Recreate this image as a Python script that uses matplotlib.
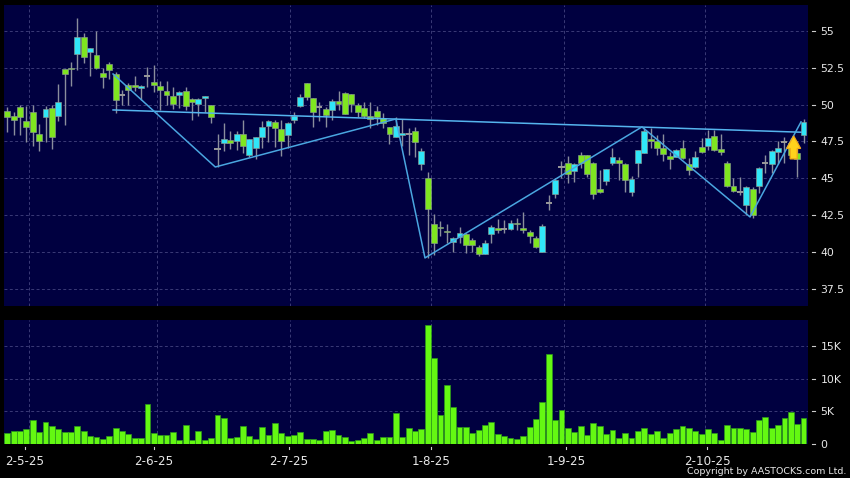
import matplotlib
matplotlib.use("Agg")
import matplotlib.pyplot as plt
from matplotlib.patches import FancyArrow

opens = [49.59,49.21,49.82,48.91,49.48,47.99,49.14,49.75,49.21,52.40,52.51,53.42,54.57,53.55,53.35,52.13,52.74,52.08,50.63,51.36,
         51.36,51.11,51.97,51.56,51.29,50.95,50.61,50.63,50.95,50.41,50.02,50.43,49.96,46.99,47.38,47.62,47.51,48.03,46.56,47.04,
         47.78,48.55,48.80,48.37,47.96,48.94,49.93,51.49,50.47,49.82,49.73,49.62,50.27,50.81,50.70,50.00,49.75,49.25,49.55,49.12,
         48.51,47.83,47.92,48.03,48.19,46.00,45.00,41.92,41.72,41.45,40.70,41.04,41.20,40.84,40.36,39.84,41.22,41.63,41.56,41.54,
         41.99,41.65,41.38,40.97,40.02,43.34,43.91,45.80,46.07,45.52,46.61,46.61,46.02,44.30,44.80,46.02,46.27,46.00,44.05,46.02,
         46.70,47.70,47.52,47.09,46.55,46.48,47.09,45.98,45.75,47.16,47.20,47.84,47.00,46.02,44.50,44.09,43.16,44.25,44.45,46.02,
         46.00,46.80,47.48,47.39,46.70,47.95]
closes = [49.19,48.98,49.14,48.51,48.12,47.56,49.68,47.78,50.16,52.06,52.40,54.57,53.21,53.82,52.47,51.90,52.33,50.32,50.63,51.00,
          51.18,51.24,51.97,51.31,50.97,50.63,50.02,50.84,49.89,50.18,50.41,50.61,49.14,46.99,47.65,47.42,48.03,47.19,47.69,47.78,
          48.51,48.91,48.39,47.56,48.73,49.23,50.50,50.50,49.48,49.82,49.28,50.27,50.02,49.39,50.02,49.48,49.25,49.00,49.14,48.78,
          47.99,48.57,48.05,48.03,47.49,46.83,42.90,40.63,41.63,41.34,40.97,41.27,40.48,40.48,39.84,40.59,41.72,41.52,41.56,41.97,
          41.88,41.47,41.11,40.32,41.79,43.34,44.86,45.80,45.30,45.95,46.07,45.30,43.91,44.05,45.61,46.43,46.02,44.86,44.98,46.89,
          48.18,47.52,47.05,46.64,46.30,46.93,46.36,45.57,46.43,46.82,47.77,46.93,46.77,44.50,44.14,44.09,44.39,42.48,45.73,46.02,
          46.86,47.09,47.48,46.59,46.30,48.80]
highs = [49.86,49.52,49.96,49.91,49.98,48.67,49.91,49.98,51.40,52.40,52.90,55.86,54.84,53.82,55.00,52.47,52.90,52.24,51.00,51.45,
         51.95,51.33,52.53,52.67,51.61,51.61,51.18,50.95,51.18,50.45,50.47,50.61,49.96,47.99,48.73,48.21,48.21,48.96,47.69,47.83,
         48.91,48.96,48.96,48.96,48.85,49.50,50.72,51.49,50.47,50.20,49.86,50.36,50.93,50.86,50.70,50.14,50.20,50.20,49.91,49.46,
         48.51,49.14,49.00,48.44,48.46,47.04,45.41,42.56,42.10,41.88,41.04,41.67,41.27,40.93,40.48,40.81,41.83,42.22,42.17,42.17,
         42.33,42.69,41.49,41.11,41.90,43.86,45.00,46.18,46.52,46.02,46.82,46.61,46.14,45.57,45.61,47.05,46.43,46.07,45.16,46.93,
         48.41,48.41,47.95,48.02,46.82,46.98,47.57,46.36,46.86,47.73,48.30,48.25,48.00,46.20,45.00,45.07,44.48,44.39,45.80,46.59,
         46.93,47.50,47.80,47.73,47.50,49.02]
lows = [48.17,47.94,47.94,47.49,47.22,46.88,47.49,47.01,48.91,48.62,51.27,52.35,52.81,51.95,52.40,51.15,51.74,49.46,49.98,49.98,
        50.95,50.32,51.22,50.88,49.64,49.98,49.71,49.75,49.64,48.96,49.25,49.52,48.78,45.79,46.88,46.99,46.92,46.74,46.47,46.29,
        47.04,47.49,47.15,46.52,47.04,48.73,49.86,50.32,48.51,48.91,48.51,48.96,49.64,49.34,49.52,49.19,49.07,48.39,48.62,48.39,
        47.33,47.83,47.19,46.58,46.47,45.57,39.57,39.80,41.11,40.63,40.02,40.63,39.95,40.02,39.75,39.84,40.63,41.27,41.27,41.49,
        41.49,41.27,40.63,40.25,39.98,42.84,43.70,45.00,44.70,44.77,45.68,45.11,43.59,43.98,44.55,45.91,44.89,44.09,43.82,45.07,
        46.70,47.05,46.59,46.18,45.61,46.43,46.32,45.23,45.68,46.70,46.93,46.86,46.59,44.43,44.05,43.86,42.50,42.34,44.02,45.39,
        45.34,46.00,46.07,46.48,45.11,47.43]
volumes = [1.64,2.00,2.00,2.20,3.65,1.85,3.39,2.67,2.20,1.85,1.85,2.72,2.00,1.23,1.08,0.77,1.13,2.42,1.95,1.49,
           0.82,0.82,6.06,1.59,1.28,1.28,1.80,0.62,2.88,0.51,1.95,0.62,0.82,4.37,4.01,0.92,1.08,2.67,1.13,0.77,
           2.57,1.39,3.13,1.64,1.18,1.28,1.80,0.77,0.77,0.57,1.90,2.16,1.34,1.03,0.46,0.62,0.82,1.59,0.51,1.03,
           1.03,4.68,1.03,2.36,2.00,2.21,18.24,13.16,4.37,9.04,5.60,2.57,2.57,1.64,2.10,2.83,3.29,1.49,1.18,0.82,
           0.77,1.13,2.57,3.85,6.47,13.72,3.70,5.24,2.36,1.75,2.72,1.28,3.24,2.72,1.49,2.16,0.82,1.59,0.87,1.90,
           2.47,1.54,1.90,0.87,1.70,2.21,2.77,2.36,2.00,1.44,2.31,1.59,0.57,2.88,2.47,2.47,2.21,1.75,3.60,4.16,
           2.36,2.93,4.01,4.88,2.98,3.91]

date_labels = ["2-5-25", "2-6-25", "2-7-25", "1-8-25", "1-9-25", "2-10-25"]
date_ticks = [2.78, 23.03, 44.2, 66.5, 87.7, 109.9]
date_grid = [3.45, 23.45, 44.45, 66.45, 87.45, 109.6]
price_ticks = [37.5, 40, 42.5, 45, 47.5, 50, 52.5, 55]
price_labels = ["37.5", "40", "42.5", "45", "47.5", "50", "52.5", "55"]
vol_ticks = [0, 5, 10, 15]
vol_labels = ["0", "5K", "10K", "15K"]
pattern_x = [16.6, 32.65, 61.0, 65.57, 99.63, 116.6, 124.6]
pattern_y = [52.08, 45.77, 49.03, 39.60, 48.49, 42.38, 48.83]
neck_x = [16.6, 124.6]
neck_y = [49.64, 48.13]

W, H = 850, 478
BG = "#000000"
PANEL = "#000040"
GRID = "#3a3a76"
LIME = "#7fe620"
CYAN = "#30e6f8"
EDGE = "#8a9a90"
TXT = "#e8e8e8"
DASH = (0, (3, 2.5))
plt.rcParams["font.family"] = "DejaVu Sans"

fig = plt.figure(figsize=(W / 100, H / 100), dpi=100, facecolor=BG)


def box(l, t, r, b):
    return [l / W, 1 - b / H, (r - l) / W, (b - t) / H]


ax = fig.add_axes(box(4, 5, 808, 306), facecolor=PANEL)
axv = fig.add_axes(box(4, 319.5, 808, 443.7), facecolor=PANEL)
xlim = (-0.518, 125.7)

for a in (ax, axv):
    a.set_xlim(*xlim)
    for s in a.spines.values():
        s.set_visible(False)
    for g in date_grid:
        a.axvline(g, color=GRID, lw=0.7, ls=DASH, zorder=1)

ax.set_ylim(36.34, 56.76)
axv.set_ylim(0, 19.1)

for t in price_ticks:
    ax.axhline(t, color=GRID, lw=0.7, ls=DASH, zorder=1)
for t in vol_ticks[1:]:
    axv.axhline(t, color=GRID, lw=0.7, ls=DASH, zorder=1)

idx = list(range(len(opens)))
ax.vlines(idx, lows, highs, color="#8a8e9c", lw=1.0, zorder=2)
for i, o, c in zip(idx, opens, closes):
    if o == c:
        ax.hlines(o, i - 0.48, i + 0.48, color="#9a9a9a", lw=1.4, zorder=3)
    else:
        col = LIME if c < o else CYAN
        ax.bar(i, abs(c - o), bottom=min(o, c), width=0.92, color=col,
               edgecolor=EDGE, linewidth=0.45, zorder=3)

ax.plot(neck_x, neck_y, color="#55b4ee", lw=1.1, zorder=4)
ax.plot(pattern_x, pattern_y, color="#4aa6e0", lw=1.1, zorder=4)

ax.add_patch(FancyArrow(123.45, 46.32, 0, 1.56, width=1.1, head_width=2.2,
                        head_length=0.85, length_includes_head=True,
                        facecolor="#ffd21c", edgecolor="#f0a818", lw=0.9, zorder=6))

axv.bar(idx, volumes, width=0.92, color="#64f812", edgecolor="#2c9a1c",
        linewidth=0.5, zorder=3)

# tick marks stand clear of the panels, as in the reference
for a, ticks, labels in ((ax, price_ticks, price_labels), (axv, vol_ticks, vol_labels)):
    a.yaxis.tick_right()
    a.set_yticks(ticks, labels)
    a.tick_params(axis="y", colors=TXT, length=0, pad=9, labelsize=7.8)
    for t in ticks:
        a.plot([1.005, 1.0088], [t, t], transform=a.get_yaxis_transform(),
               color="#cccccc", lw=0.8, clip_on=False, zorder=5)

ax.set_xticks([])
axv.set_xticks(date_ticks, date_labels)
axv.tick_params(axis="x", colors=TXT, length=0, pad=8, labelsize=8.6)
for t in date_ticks:
    axv.plot([t, t], [-0.028, -0.045], transform=axv.get_xaxis_transform(),
             color="#cccccc", lw=0.8, clip_on=False, zorder=5)

fig.text(846 / W, 1 - 471 / H, "Copyright by AASTOCKS.com Ltd.", color=TXT,
         ha="right", va="center", fontsize=6.8)

fig.savefig("out.png", dpi=100, facecolor=BG)
